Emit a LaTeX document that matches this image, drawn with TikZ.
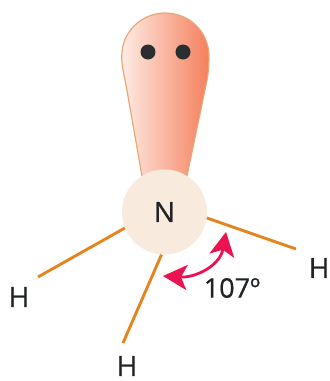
\documentclass[tikz,border=0pt]{standalone}
\usepackage{fontspec}
\setmainfont[FakeBold=0.6]{Open Sans}
\usetikzlibrary{arrows.meta}
\definecolor{lobeL}{HTML}{FFEDE6}
\definecolor{lobeR}{HTML}{F47F5C}
\definecolor{lobeE}{HTML}{E9A777}
\definecolor{nucl}{HTML}{F9EADE}
\definecolor{bondc}{HTML}{E5851F}
\definecolor{angc}{HTML}{EA1250}
\definecolor{txtc}{HTML}{1F2326}
\tikzset{
  lobe/.style ={draw=lobeE, line width=1.2pt, left color=lobeL, right color=lobeR},
  atomN/.style={circle, minimum size=85pt, inner sep=0pt, fill=nucl, text=txtc, font=\fontsize{28}{28}\selectfont},
  elec/.style ={circle, minimum size=15pt, inner sep=0pt, fill=txtc!95},
  bond/.style ={line width=2.9pt, bondc},
  atomH/.style={inner sep=0pt, text=txtc, font=\fontsize{28}{28}\selectfont},
  ang/.style  ={{Stealth[length=24pt,width=25pt,inset=6pt]}-{Stealth[length=24pt,width=25pt,inset=6pt]}, line width=2.8pt, angc},
  lab/.style  ={inner sep=0pt, text=txtc, font=\fontsize{27}{27}\selectfont},
}
\begin{document}
\begin{tikzpicture}[x=1pt, y=-1pt]
  \useasboundingbox (0,0) rectangle (330,381);
  % lone pair lobe
  \draw[lobe] (142,176) -- (126,85) .. controls (123,70) and (121,62) .. (122,52)
    .. controls (124,28) and (145,13) .. (165,13)
    .. controls (188,13) and (208,30) .. (209,55)
    .. controls (209,68) and (208,76) .. (206,85) -- (187,176) -- cycle;
  \node[elec] (e1) at (148,52) {};
  \node[elec] (e2) at (183,52) {};
  \node[atomN] (n) at (164.5,212) {N};
  % hydrogens
  \node[atomH] (h1) at (19,297) {H};
  \node[atomH] (h2) at (319,268) {H};
  \node[atomH] (h3) at (127,366) {H};
  \coordinate (b1) at (38,277);
  \coordinate (b2) at (296,249);
  \coordinate (b3) at (123,343);
  \draw[bond] (n.202) -- (b1);
  \draw[bond] (n.-8) -- (b2);
  \draw[bond] (n.266) -- (b3);
  % angle
  \coordinate (a1) at (163,276);
  \coordinate (a2) at (226,232);
  \draw[ang] (a1) .. controls (195,278) and (220,266) .. (a2);
  \node[lab] (t) at (232,288) {107º};
\end{tikzpicture}
\end{document}
